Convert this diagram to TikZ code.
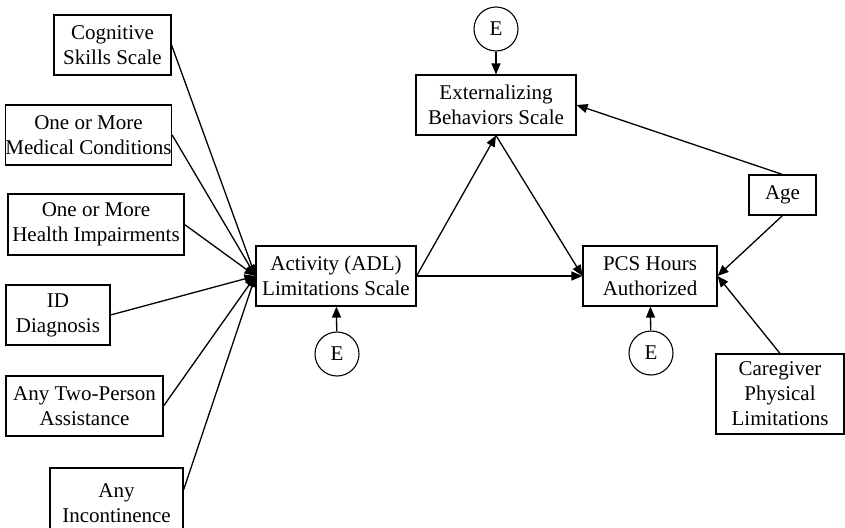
\documentclass[tikz,border=0pt]{standalone}
\usepackage{fontspec}
\setmainfont{Liberation Serif}
\usetikzlibrary{arrows.meta}
\begin{document}
\begin{tikzpicture}[x=1pt,y=-1pt,
  box/.style={draw,line width=1.1pt,inner sep=0pt,align=center,font=\fontsize{21}{25}\selectfont},
  errc/.style={draw,circle,line width=1.1pt,inner sep=0pt,minimum size=44pt,font=\fontsize{21}{25}\selectfont},
  path/.style={line width=1.3pt,-{Triangle[length=11pt,width=9pt]}}]
\useasboundingbox (0,0) rectangle (845,527);
% left predictors
\node[box,minimum width=117pt,minimum height=60pt] (cog) at (112.5,45) {Cognitive\\Skills Scale};
\node[box,minimum width=165pt,minimum height=60pt] (med) at (88.5,135) {One or More\\Medical Conditions};
\node[box,minimum width=176pt,minimum height=61pt] (hea) at (96,224.5) {One or More\\Health Impairments};
\node[box,minimum width=104pt,minimum height=60pt] (idd) at (58,315) {ID\\Diagnosis};
\node[box,minimum width=157pt,minimum height=60pt] (two) at (84.5,406) {Any Two-Person\\Assistance};
\node[box,minimum width=133pt,minimum height=70pt] (inc) at (116.5,503) {Any\\Incontinence};
% central
\node[box,minimum width=160pt,minimum height=60pt] (act) at (336,276) {Activity (ADL)\\Limitations Scale};
\node[box,minimum width=160pt,minimum height=60pt] (ext) at (496,105) {Externalizing\\Behaviors Scale};
\node[box,minimum width=134pt,minimum height=60pt] (pcs) at (650,276) {PCS Hours\\Authorized};
\node[box,minimum width=67pt,minimum height=40pt] (age) at (782.5,195) {Age};
\node[box,minimum width=128pt,minimum height=80pt] (care) at (780,394) {Caregiver\\Physical\\Limitations};
% error terms
\node[errc] (e1) at (496,29) {E};
\node[errc] (e2) at (337,354) {E};
\node[errc] (e3) at (651,353) {E};
% connectors
\foreach \s in {cog,med,hea,idd,two}
  \draw[path] (\s.east) -- (act.west);
\draw[path] ([yshift=13pt]inc.east) -- (act.west);
\draw[path] (act.east) -- (ext.south);
\draw[path] (ext.south) -- (pcs.west);
\draw[path] (act.east) -- (pcs.west);
\draw[path] (age.north) -- (ext.east);
\draw[path] (age.south) -- (pcs.east);
\draw[path] (care.north) -- (pcs.east);
\draw[path] (e1) -- (ext);
\draw[path] (e2) -- (act);
\draw[path] (e3) -- (pcs);
\end{tikzpicture}
\end{document}
